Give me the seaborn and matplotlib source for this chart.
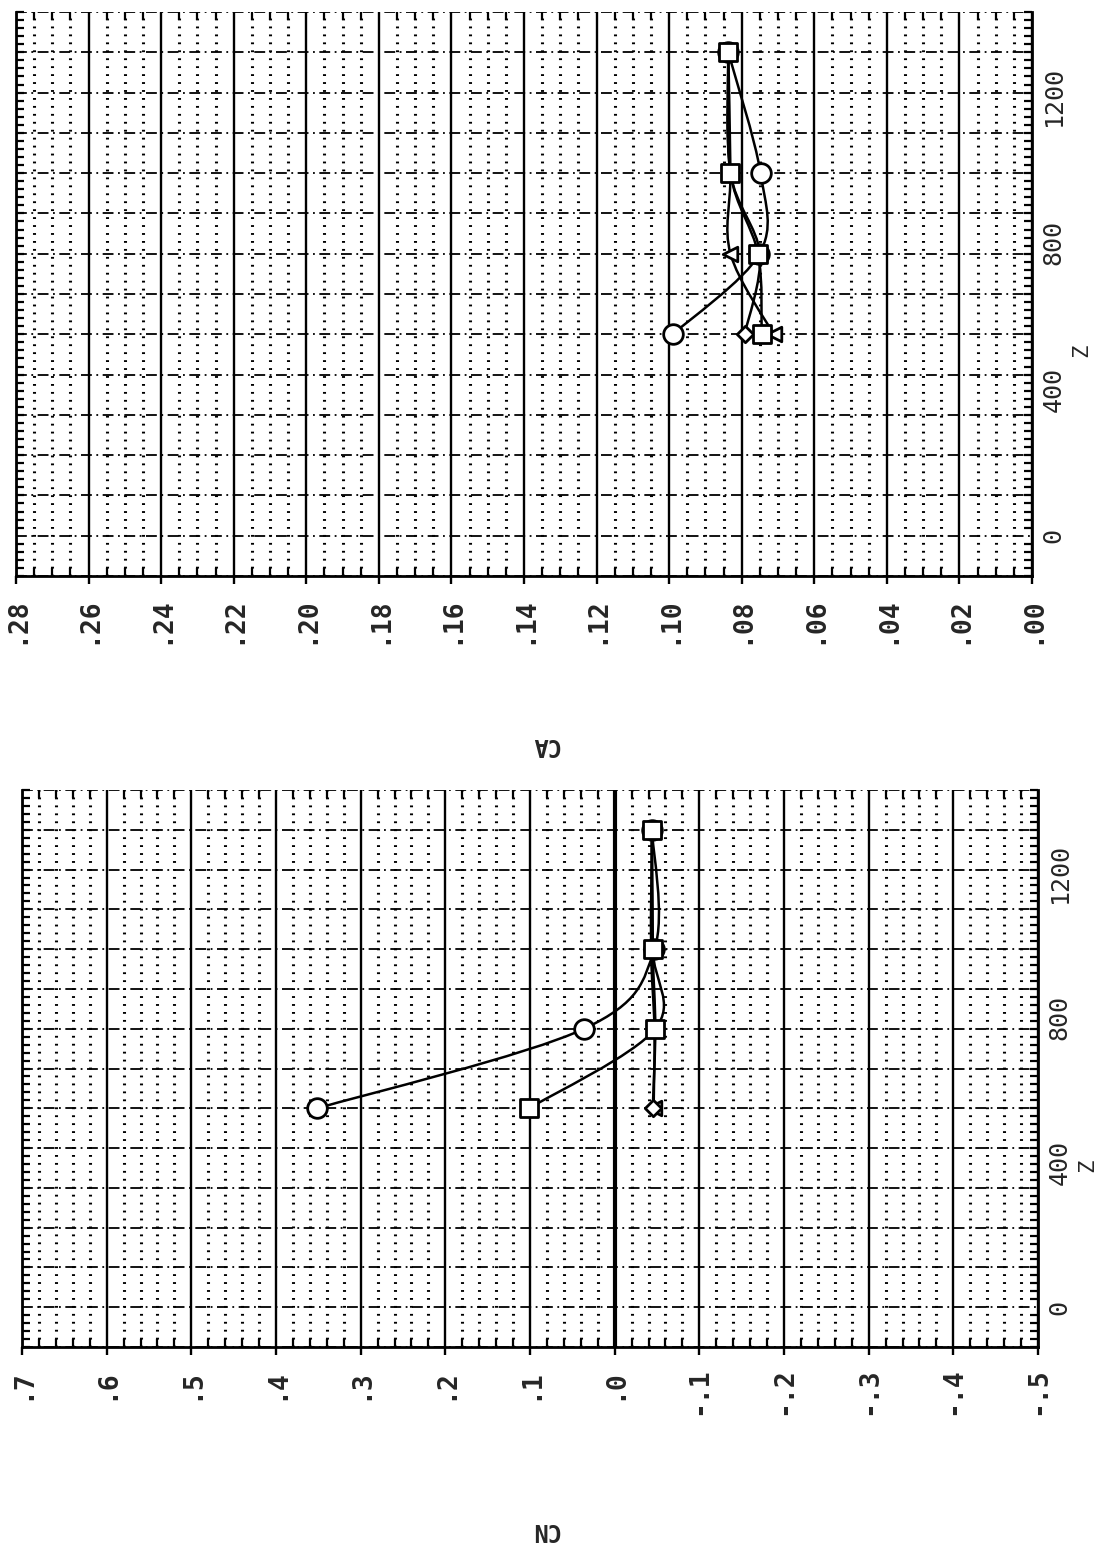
import numpy as np
import pandas as pd
import matplotlib
matplotlib.use('Agg')
import matplotlib.pyplot as plt
import seaborn as sns
from matplotlib.path import Path
from matplotlib.patches import PathPatch
from matplotlib.ticker import FixedLocator, MultipleLocator

# stations along the body (Z) and the four runs
z_stations = [550, 770, 990, 1320]
series_names = ['triangle', 'diamond', 'circle', 'square']

cn_circle = [0.351, 0.036, -0.047, -0.044]
cn_square = [0.101, -0.048, -0.045, -0.044]
cn_diamond = [-0.045, -0.048, -0.045, -0.044]
cn_triangle = [-0.046, -0.047, -0.043, -0.044]

ca_circle = [0.0990, 0.0751, 0.0748, 0.0837]
ca_square = [0.0745, 0.0755, 0.0831, 0.0837]
ca_diamond = [0.0792, 0.0750, 0.0831, 0.0837]
ca_triangle = [0.0712, 0.0831, 0.0831, 0.0837]

cn_ticks = [0.7, 0.6, 0.5, 0.4, 0.3, 0.2, 0.1, 0.0, -0.1, -0.2, -0.3, -0.4, -0.5]
cn_tick_labels = ['.7', '.6', '.5', '.4', '.3', '.2', '.1', '.0', '-.1', '-.2', '-.3', '-.4', '-.5']
ca_ticks = [0.28, 0.26, 0.24, 0.22, 0.20, 0.18, 0.16, 0.14, 0.12, 0.10, 0.08, 0.06, 0.04, 0.02, 0.00]
ca_tick_labels = ['.28', '.26', '.24', '.22', '.20', '.18', '.16', '.14', '.12', '.10', '.08', '.06', '.04', '.02', '.00']
z_ticks = [0, 400, 800, 1200]
z_tick_labels = ['0', '400', '800', '1200']

markers = {'circle': 'o', 'square': 's', 'diamond': 'D', 'triangle': '<'}
marker_area = {'circle': 200, 'square': 150, 'diamond': 70, 'triangle': 110}

sns.set_style('white')
plt.rcParams['font.family'] = ['DejaVu Sans Mono', 'DejaVu Sans']


def smooth_curve(ax, xs, ys):
    # spline-like bezier through the measured points
    pts = np.column_stack([xs, ys]).astype(float)
    n = len(pts)
    verts = [pts[0]]
    codes = [Path.MOVETO]
    for i in range(n - 1):
        p0 = pts[max(i - 1, 0)]
        p1 = pts[i]
        p2 = pts[i + 1]
        p3 = pts[min(i + 2, n - 1)]
        verts += [p1 + (p2 - p0) / 6, p2 - (p3 - p1) / 6, p2]
        codes += [Path.CURVE4] * 3
    ax.add_patch(PathPatch(Path(verts, codes), fill=False, lw=1.8, ec='black', zorder=3))


def panel(ax, values, xlim, ticks, tick_labels, minor_step, xlabel, zero_line, zlabel_y, xlabel_xy):
    df = pd.DataFrame({
        'Z': z_stations * len(series_names),
        'value': sum(values, []),
        'series': [s for s in series_names for _ in z_stations],
    })
    for name in series_names:
        sub = df[df['series'] == name]
        smooth_curve(ax, sub['value'].values, sub['Z'].values)
    for name in series_names:
        sub = df[df['series'] == name]
        sns.scatterplot(data=sub, x='value', y='Z', marker=markers[name], s=marker_area[name],
                        color='white', edgecolor='black', linewidth=2, zorder=4, ax=ax, legend=False)

    ax.set_xlim(*xlim)
    ax.set_ylim(-110, 1430)

    # grid: solid majors, dotted minors, dash-dot rows
    ax.xaxis.set_major_locator(FixedLocator(ticks))
    ax.xaxis.set_minor_locator(MultipleLocator(minor_step))
    ax.grid(which='major', axis='x', color='black', lw=1.7, ls='-')
    ax.grid(which='minor', axis='x', color='black', lw=2.2, ls=(0, (0.6, 2.0)))
    ax.grid(which='major', axis='y', visible=False)
    ax.hlines(np.arange(-110, 1431, 110), xlim[0], xlim[1], colors='black', lw=1.3,
              linestyles=(0, (6, 2.5, 1, 2.5)), zorder=1)
    if zero_line:
        ax.axvline(0, color='black', lw=3, zorder=2)

    ax.yaxis.set_major_locator(FixedLocator(z_ticks))
    ax.yaxis.set_minor_locator(MultipleLocator(22))

    ax.set_xticklabels(tick_labels, rotation=90, fontsize=19, fontweight='bold',
                       fontfamily='DejaVu Sans Mono')
    ax.set_yticklabels(z_tick_labels, rotation=90, fontsize=18, va='center',
                       fontfamily='DejaVu Sans Mono')

    ax.tick_params(axis='x', which='major', direction='out', length=6, width=1.7,
                   bottom=True, top=False, pad=9, color='black')
    ax.tick_params(axis='x', which='minor', direction='in', length=6, width=1.6,
                   bottom=True, top=True, color='black')
    ax.tick_params(axis='y', which='minor', direction='in', length=6, width=1.6,
                   left=True, right=True, color='black')
    ax.tick_params(axis='y', which='major', length=0, left=False, right=True,
                   labelleft=False, labelright=True, pad=7)

    for side in ['left', 'bottom', 'right']:
        ax.spines[side].set_visible(True)
        ax.spines[side].set_color('black')
        ax.spines[side].set_linewidth(2)
    ax.spines['top'].set_visible(False)

    ax.yaxis.set_label_position('right')
    ax.set_ylabel('Z', rotation=90, fontsize=16)
    ax.yaxis.set_label_coords(1.048, zlabel_y)
    ax.yaxis.label.set_va('center')
    ax.yaxis.label.set_ha('center')

    ax.set_xlabel(xlabel, rotation=180, fontsize=17, fontweight='bold')
    ax.xaxis.set_label_coords(*xlabel_xy)
    ax.xaxis.label.set_va('center')
    ax.xaxis.label.set_ha('center')


fig = plt.figure(figsize=(10.99, 15.66), dpi=100)
ax_ca = fig.add_axes([16 / 1099, 1 - 576 / 1566, 1016 / 1099, 564 / 1566])
ax_cn = fig.add_axes([22 / 1099, 1 - 1347 / 1566, 1016 / 1099, 557 / 1566])

panel(ax_ca, [ca_triangle, ca_diamond, ca_circle, ca_square], (0.28, 0.0), ca_ticks, ca_tick_labels,
      0.005, 'CA', False, 0.40, (0.521, -0.30))
panel(ax_cn, [cn_triangle, cn_diamond, cn_circle, cn_square], (0.7, -0.5), cn_ticks, cn_tick_labels,
      0.02, 'CN', True, 0.327, (0.515, -0.329))

plt.savefig('out.png', dpi=100)
plt.close('all')
